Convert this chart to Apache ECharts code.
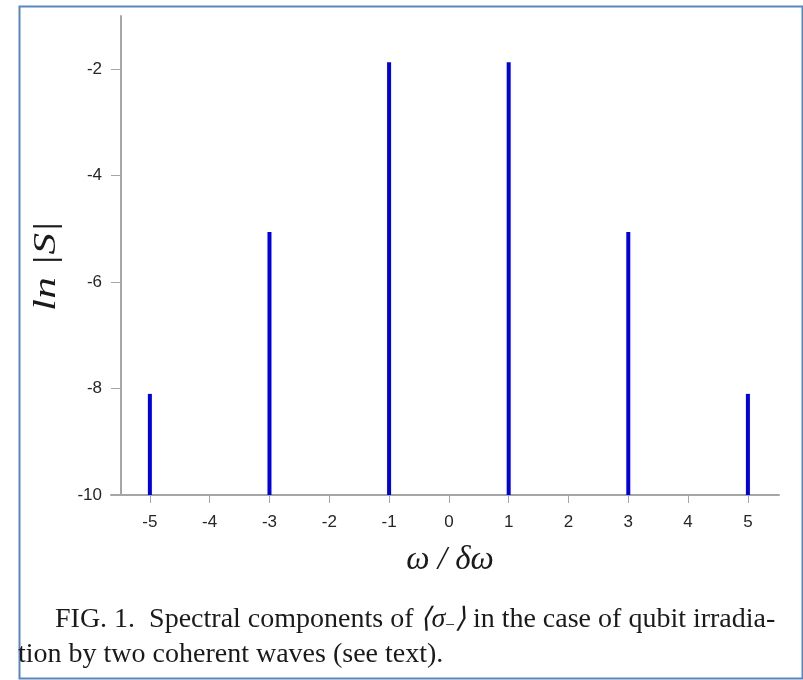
<!DOCTYPE html>
<html>
<head>
<meta charset="utf-8">
<script src="https://cdn.jsdelivr.net/npm/echarts@6/dist/echarts.min.js"></script>
<style>html,body{margin:0;padding:0;background:#fff;}#c{width:803px;height:680px;}</style>
</head>
<body>
<div id="c"></div>
<script>
// Data
const omega = [-5, -3, -1, 1, 3, 5];
const lnS = [-8.10, -5.06, -1.87, -1.87, -5.06, -8.10];
const xTickValues = [-5, -4, -3, -2, -1, 0, 1, 2, 3, 4, 5];
const yTickValues = [-10, -8, -6, -4, -2];
const xRange = [-5.65, 5.52];
const yRange = [-10, -1];
const xName = 'ω / δω';
const yName = 'ln |S|';
const captionLine1 = 'FIG. 1.  Spectral components of {t|⟨σ}{s|−}{t|⟩} in the case of qubit irradia-';
const captionLine2 = 'tion by two coherent waves (see text).';

const chart = echarts.init(document.getElementById('c'), null, {renderer: 'canvas'});
const axisGray = '#a6a6a6';
const labelColor = '#262626';
const serif = '"Liberation Serif", "Times New Roman", serif';

chart.setOption({
  backgroundColor: '#fff',
  animation: false,
  grid: {left: 111, right: 24, top: 16, bottom: 185, containLabel: false},
  xAxis: {
    type: 'value', min: xRange[0], max: xRange[1],
    axisLine: {show: true, onZero: false, lineStyle: {color: axisGray, width: 2}},
    axisTick: {show: true, customValues: xTickValues, length: 8, inside: false, lineStyle: {color: axisGray, width: 1}},
    axisLabel: {customValues: xTickValues, margin: 19, fontSize: 17, color: labelColor, fontFamily: 'Liberation Sans, Arial, sans-serif'},
    splitLine: {show: false}
  },
  yAxis: {
    type: 'value', min: yRange[0], max: yRange[1], offset: -10,
    axisLine: {show: true, onZero: false, lineStyle: {color: axisGray, width: 2}},
    axisTick: {show: true, customValues: yTickValues, length: 10, inside: false, lineStyle: {color: axisGray, width: 1}},
    axisLabel: {customValues: yTickValues, margin: 19, fontSize: 17, color: labelColor, fontFamily: 'Liberation Sans, Arial, sans-serif'},
    splitLine: {show: false}
  },
  series: [{
    type: 'custom',
    data: omega.map((x, i) => [x, lnS[i]]),
    clip: false,
    renderItem: function (params, api) {
      const top = api.coord([api.value(0), api.value(1)]);
      const base = api.coord([api.value(0), yRange[0]]);
      return {
        type: 'rect',
        shape: {x: top[0] - 2, y: top[1], width: 4, height: base[1] - top[1]},
        style: {fill: '#0000e0'}
      };
    }
  }],
  graphic: [
    {type: 'rect', left: 17, top: 4, z: 100, silent: true,
      shape: {width: 783, height: 672},
      style: {fill: 'none', stroke: '#5a86c0', lineWidth: 2}},
    {type: 'text', x: 450, y: 560, z: 100,
      style: {text: xName, font: 'italic 33px ' + serif, fill: '#1a1a1a', align: 'center', verticalAlign: 'middle'}},
    {type: 'text', x: 46, y: 266, rotation: Math.PI / 2, scaleX: 1.2, scaleY: 0.9, z: 100,
      style: {text: yName, font: 'italic 36px ' + serif, fill: '#1a1a1a', align: 'center', verticalAlign: 'middle'}},
    {type: 'text', x: 55, y: 620, z: 100,
      style: {
        text: captionLine1,
        font: '28px ' + serif, fill: '#1a1a1a', verticalAlign: 'middle',
        rich: {
          t: {font: 'italic 28px ' + serif, fill: '#1a1a1a'},
          s: {font: '17px ' + serif, fill: '#1a1a1a', padding: [12, 0, 0, 0]}
        }
      }},
    {type: 'text', x: 18, y: 655, z: 100,
      style: {text: captionLine2, font: '28px ' + serif, fill: '#1a1a1a', verticalAlign: 'middle'}}
  ]
});
</script>
</body>
</html>
